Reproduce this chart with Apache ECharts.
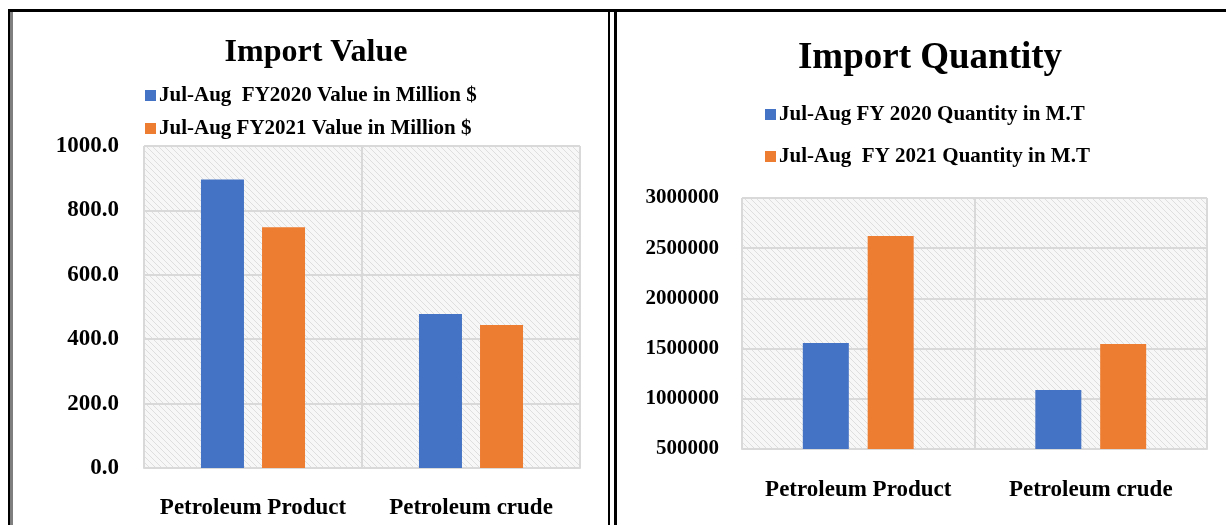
<!DOCTYPE html>
<html>
<head>
<meta charset="utf-8">
<script src="https://cdn.jsdelivr.net/npm/echarts@6/dist/echarts.min.js"></script>
<style>
  html, body { margin: 0; padding: 0; background: #fff; }
  #main { width: 1226px; height: 525px; }
</style>
</head>
<body>
<div id="main"></div>
<script>
// data
var categories = ["Petroleum Product", "Petroleum crude"];

var valueNames = ["Jul-Aug  FY2020 Value in Million $", "Jul-Aug FY2021 Value in Million $"];
var value2020 = [896, 478];
var value2021 = [748, 444];
var valueTicks = [0, 1000, 200];

var qtyNames = ["Jul-Aug FY 2020 Quantity in M.T", "Jul-Aug  FY 2021 Quantity in M.T"];
var qty2020 = [1556000, 1088000];
var qty2021 = [2621000, 1546000];
var qtyTicks = [500000, 3000000, 500000];

var blue = "#4472c4";
var orange = "#ed7d31";
var font = "'Liberation Serif', 'Times New Roman', serif";

// hatched plot background
function hatch() {
  var c = document.createElement("canvas");
  c.width = 6; c.height = 6;
  var ctx = c.getContext("2d");
  ctx.fillStyle = "#f7f7f7";
  ctx.fillRect(0, 0, 6, 6);
  ctx.strokeStyle = "#dedede";
  ctx.lineWidth = 1;
  ctx.beginPath();
  ctx.moveTo(-1, -1); ctx.lineTo(7, 7);
  ctx.moveTo(-1, 5); ctx.lineTo(1, 7);
  ctx.moveTo(5, -1); ctx.lineTo(7, 1);
  ctx.stroke();
  return { image: c, repeat: "repeat" };
}
var bg = hatch();

var chart = echarts.init(document.getElementById("main"));

function gridOpt(l, t, r, b) {
  return {
    left: l, top: t, width: r - l, height: b - t,
    show: true, backgroundColor: bg,
    borderColor: "#7f7f7f", borderWidth: 1
  };
}

function xAxisOpt(idx, margin) {
  return {
    type: "category", gridIndex: idx, data: categories,
    axisLine: { show: true, lineStyle: { color: "#d9d9d9", width: 2 } },
    axisTick: { show: false },
    splitLine: { show: true, interval: 0, lineStyle: { color: "#d9d9d9", width: 2 } },
    axisLabel: { interval: 0, hideOverlap: false, margin: margin, color: "#000",
      fontFamily: font, fontWeight: "bold", fontSize: 23 }
  };
}

var option = {
  animation: false,
  title: [
    { text: "Import Value", left: 311, top: 32, textAlign: "center",
      textStyle: { fontFamily: font, fontWeight: "bold", fontSize: 32, color: "#000" } },
    { text: "Import Quantity", left: 925, top: 35, textAlign: "center",
      textStyle: { fontFamily: font, fontWeight: "bold", fontSize: 37, color: "#000" } }
  ],
  legend: [
    { data: valueNames, orient: "vertical", left: 140, top: 80, itemGap: 12,
      itemWidth: 11, itemHeight: 11, icon: "rect",
      textStyle: { fontFamily: font, fontWeight: "bold", fontSize: 21, color: "#000", padding: [0, 0, 0, -2] } },
    { data: qtyNames, orient: "vertical", left: 760, top: 99, itemGap: 21,
      itemWidth: 11, itemHeight: 11, icon: "rect",
      textStyle: { fontFamily: font, fontWeight: "bold", fontSize: 21, color: "#000", padding: [0, 0, 0, -2] } }
  ],
  grid: [
    gridOpt(144, 146, 580, 468),
    gridOpt(742, 198, 1207, 449)
  ],
  xAxis: [xAxisOpt(0, 29), xAxisOpt(1, 30)],
  yAxis: [
    { type: "value", gridIndex: 0, min: valueTicks[0], max: valueTicks[1], interval: valueTicks[2],
      axisLine: { show: false }, axisTick: { show: false },
      splitLine: { lineStyle: { color: "#d9d9d9", width: 2 } },
      axisLabel: { margin: 25, color: "#000", fontFamily: font, fontWeight: "bold", fontSize: 23,
        formatter: function (v) { return v.toFixed(1); } } },
    { type: "value", gridIndex: 1, min: qtyTicks[0], max: qtyTicks[1], interval: qtyTicks[2],
      axisLine: { show: false }, axisTick: { show: false },
      splitLine: { lineStyle: { color: "#d9d9d9", width: 2 } },
      axisLabel: { margin: 23, color: "#000", fontFamily: font, fontWeight: "bold", fontSize: 21,
        formatter: function (v) { return String(v); } } }
  ],
  series: [
    { name: valueNames[0], type: "bar", xAxisIndex: 0, yAxisIndex: 0, data: value2020,
      barWidth: 43, barGap: "42%", itemStyle: { color: blue } },
    { name: valueNames[1], type: "bar", xAxisIndex: 0, yAxisIndex: 0, data: value2021,
      barWidth: 43, barGap: "42%", itemStyle: { color: orange } },
    { name: qtyNames[0], type: "bar", xAxisIndex: 1, yAxisIndex: 1, data: qty2020,
      barWidth: 46, barGap: "41%", itemStyle: { color: blue } },
    { name: qtyNames[1], type: "bar", xAxisIndex: 1, yAxisIndex: 1, data: qty2021,
      barWidth: 46, barGap: "41%", itemStyle: { color: orange } }
  ],
  // panel frames
  graphic: [
    { type: "rect", shape: { x: 8, y: 9, width: 1220, height: 3 }, style: { fill: "#000" } },
    { type: "rect", shape: { x: 8, y: 9, width: 2.5, height: 520 }, style: { fill: "#000" } },
    { type: "rect", shape: { x: 11.5, y: 12, width: 1, height: 520 }, style: { fill: "#000" } },
    { type: "rect", shape: { x: 608, y: 11, width: 2, height: 520 }, style: { fill: "#000" } },
    { type: "rect", shape: { x: 614, y: 11, width: 3, height: 520 }, style: { fill: "#000" } }
  ]
};

chart.setOption(option);
</script>
</body>
</html>
